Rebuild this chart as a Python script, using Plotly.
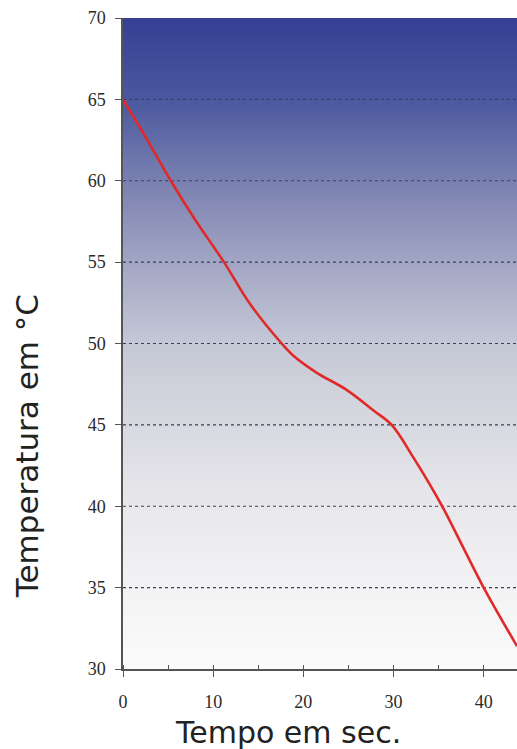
import numpy as np
import plotly.graph_objects as go

# Curve data (time in s, temperature in °C)
tempo = [0, 2.5, 5.3, 8.0, 11.2, 14.0, 17.6, 19.0, 21.5, 24.8, 27.75, 29.8, 32.2, 35.4, 37.7, 40.0, 43.7]
temperatura = [65, 62.7, 60, 57.6, 55, 52.5, 50, 49.2, 48.2, 47.15, 45.9, 45, 43, 40, 37.5, 35, 31.4]

y_ticks = [30, 35, 40, 45, 50, 55, 60, 65, 70]
x_ticks = [0, 10, 20, 30, 40]
x_max = 43.7

# background gradient colour stops (temperature -> colour)
grad_levels = [30, 35, 40, 45, 50, 55, 60, 65, 70]
grad_colors = ["#fbfbfb", "#f3f3f5", "#e8e8ec", "#d8d9e0", "#c5c8d6",
               "#a2a6c4", "#7a80b0", "#4b589f", "#353f94"]

lo, hi = grad_levels[0], grad_levels[-1]
colorscale = [[(v - lo) / (hi - lo), c] for v, c in zip(grad_levels, grad_colors)]
yy = np.linspace(lo, hi, 161)

fig = go.Figure()
fig.add_trace(go.Heatmap(
    x=[0, x_max], y=yy, z=[[v, v] for v in yy],
    colorscale=colorscale, zmin=lo, zmax=hi, zsmooth="best",
    showscale=False, hoverinfo="skip"))

# dotted grid lines
for t in y_ticks[1:-1]:
    fig.add_trace(go.Scatter(
        x=[0, x_max], y=[t, t], mode="lines",
        line=dict(color="#3a3f5a", width=1.2, dash="dot"),
        hoverinfo="skip", showlegend=False))

fig.add_trace(go.Scatter(
    x=tempo, y=temperatura, mode="lines",
    line=dict(color="#e02a2a", width=2.6, shape="spline", smoothing=1.0),
    showlegend=False))

tick_font = dict(family="Liberation Serif", size=18, color="#2a2a2a")

fig.update_layout(
    width=517, height=749,
    margin=dict(l=123, r=0, t=18, b=80),
    paper_bgcolor="white", plot_bgcolor="white",
    showlegend=False,
    xaxis=dict(range=[0, x_max], tickvals=x_ticks, ticks="outside", ticklen=6,
               tickcolor="#555555", tickwidth=1.3,
               showgrid=False, zeroline=False, showline=True, linecolor="#555555",
               linewidth=1.5, tickfont=tick_font, ticklabelstandoff=10,
               minor=dict(dtick=5, ticks="inside", ticklen=4, tickcolor="#555555"),
               layer="above traces"),
    yaxis=dict(range=[lo, hi], tickvals=y_ticks, ticks="outside", ticklen=6,
               tickcolor="#555555", tickwidth=1.3,
               showgrid=False, zeroline=False, showline=True, linecolor="#555555",
               linewidth=1.5, tickfont=tick_font, ticklabelstandoff=6,
               layer="above traces"),
    annotations=[
        dict(text="Tempo em sec.", xref="paper", yref="paper", x=0.42, y=-0.068,
             xanchor="center", yanchor="top", showarrow=False,
             font=dict(family="DejaVu Sans", size=30, color="#222222")),
        dict(text="Temperatura em °C", xref="paper", yref="paper", x=-0.245, y=0.343,
             xanchor="center", yanchor="middle", textangle=-90, showarrow=False,
             font=dict(family="DejaVu Sans", size=31, color="#222222")),
    ],
)

fig.write_html("out.html", config={"displayModeBar": False},
               post_script="document.body.style.margin='0';document.body.style.overflow='hidden';")
